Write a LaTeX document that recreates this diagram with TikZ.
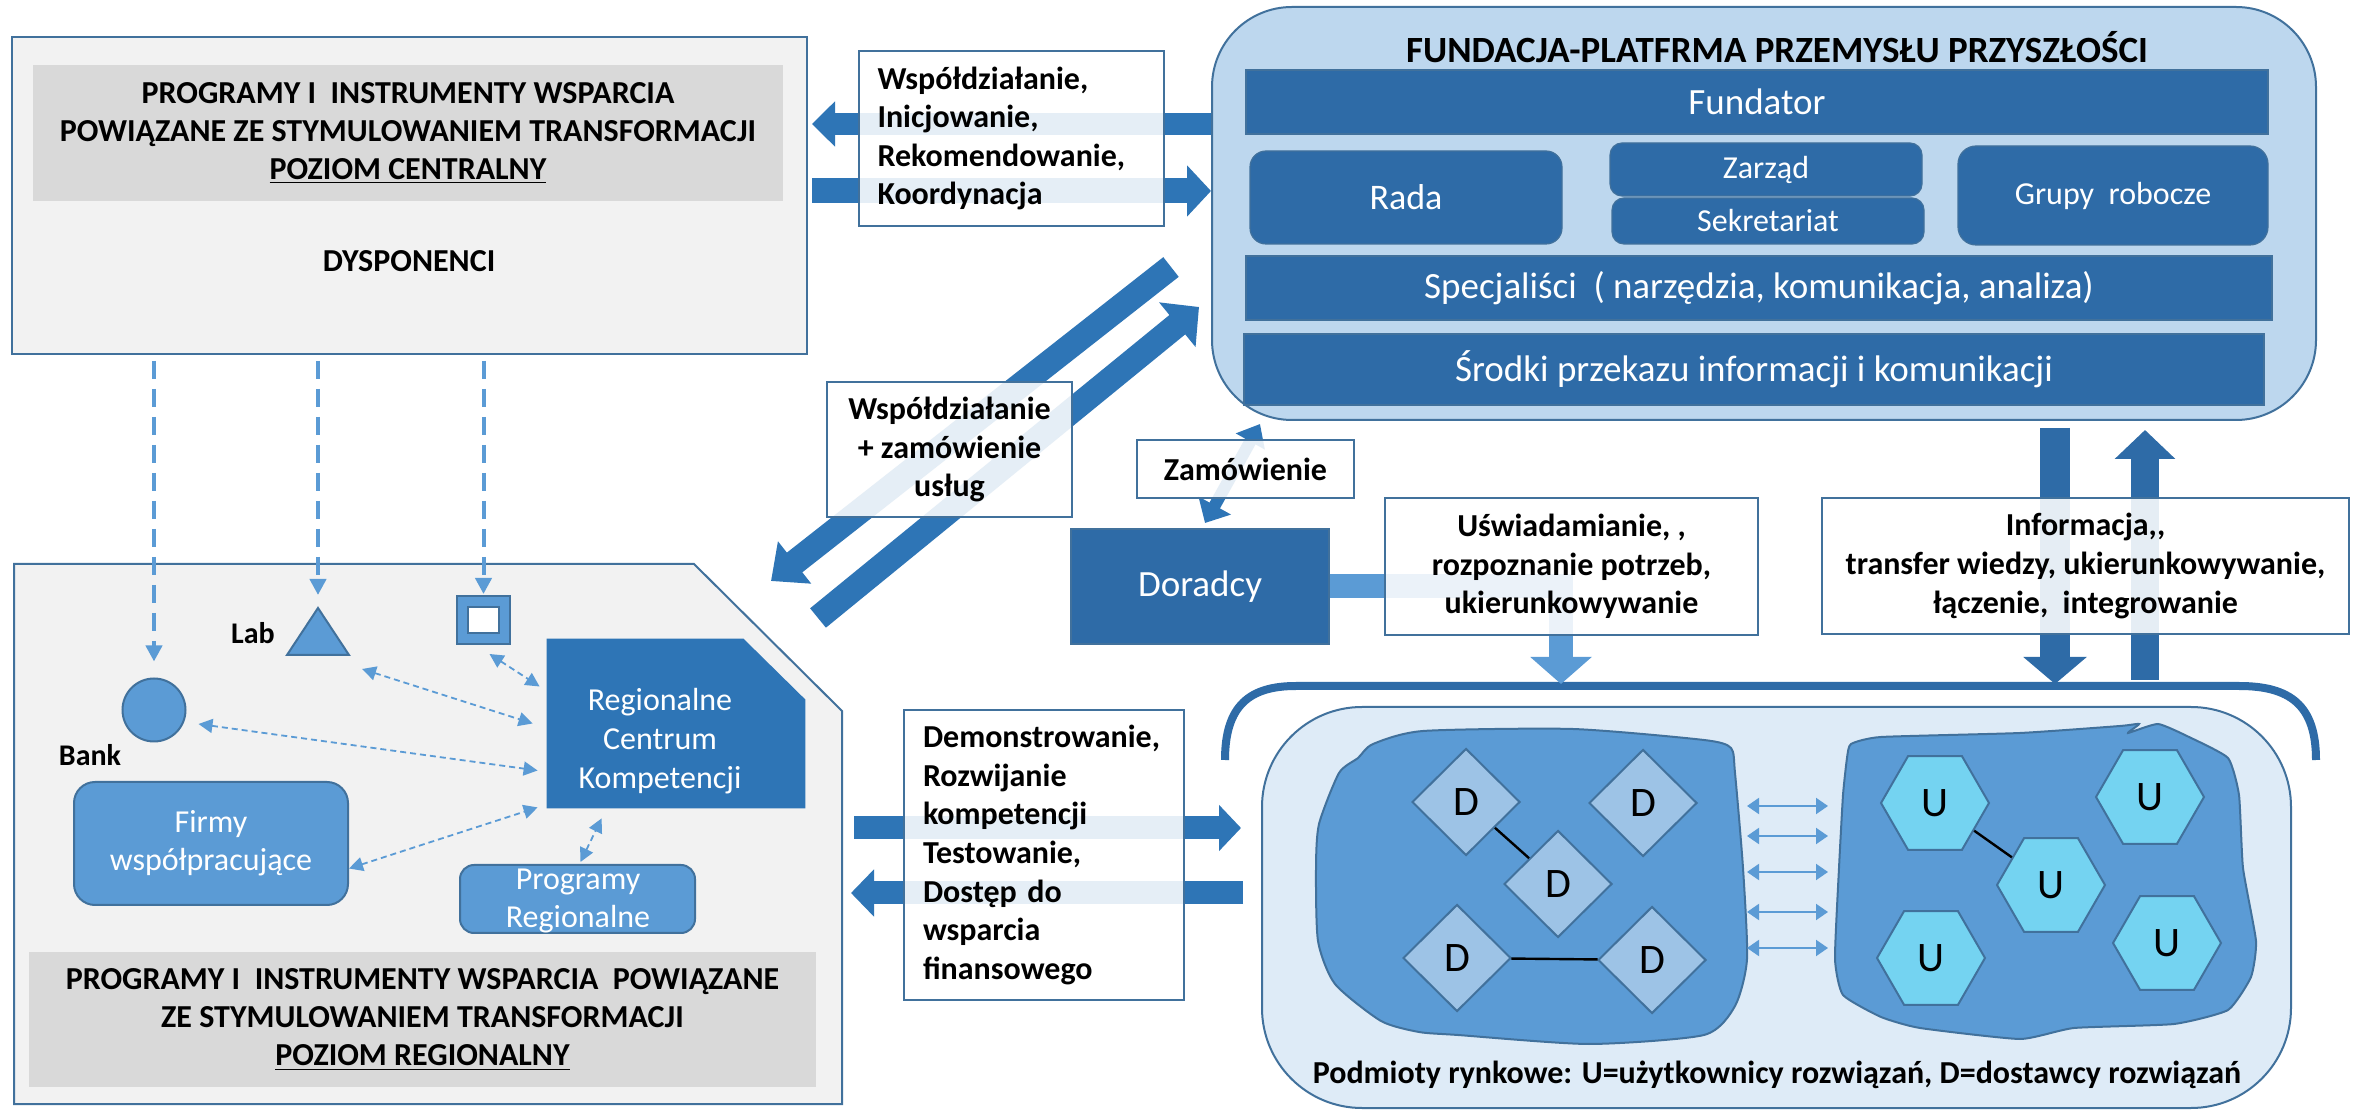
\documentclass[tikz,border=0pt]{standalone}
\usepackage{fontspec}
\setmainfont{Carlito}
\usetikzlibrary{arrows.meta, shapes.geometric}

\definecolor{barblue}{HTML}{2E6BA7}
\definecolor{arrowblue}{HTML}{2E75B6}
\definecolor{midblue}{HTML}{5B9BD5}
\definecolor{edgeblue}{HTML}{41719C}
\definecolor{paleblue}{HTML}{BDD7EE}
\definecolor{marketbg}{HTML}{DEEBF7}
\definecolor{dfill}{HTML}{9DC3E6}
\definecolor{ufill}{HTML}{74D3F1}
\definecolor{panelgrey}{HTML}{F2F2F2}
\definecolor{titlegrey}{HTML}{D9D9D9}

\begin{document}
\begin{tikzpicture}[x=0.5pt, y=-0.5pt,
    panel/.style={fill=panelgrey, draw=edgeblue, line width=1pt},
    greyhead/.style={fill=titlegrey, inner sep=0pt, align=center, font=\fontsize{16}{19}\selectfont\bfseries},
    fundbar/.style={fill=barblue, draw=edgeblue, line width=0.6pt, text=white, inner sep=0pt, font=\fontsize{18.5}{21}\selectfont},
    tag/.style={fill=white, fill opacity=0.88, text opacity=1, draw=edgeblue, line width=0.8pt, inner sep=0pt, font=\fontsize{16}{19.3}\selectfont\bfseries},
    actor/.style={fill=midblue, draw=edgeblue, line width=1pt, text=white, inner sep=0pt, align=center, font=\fontsize{16}{19}\selectfont},
    blockarrow/.style={arrowblue, line width=11.5pt},
    feedline/.style={midblue, line width=2pt, dash pattern=on 9pt off 5pt, -{Triangle[length=8pt,width=8pt]}},
    linkline/.style={midblue, line width=0.9pt, dash pattern=on 3pt off 2pt, {Triangle[length=7pt,width=7pt]}-{Triangle[length=7pt,width=7pt]}},
    pairline/.style={midblue, line width=1pt, {Triangle[length=6pt,width=8pt]}-{Triangle[length=6pt,width=8pt]}},
    supplier/.style={diamond, fill=dfill, draw=edgeblue, line width=1pt, minimum width=54pt, minimum height=53.5pt, inner sep=0pt, font=\fontsize{21}{21}\selectfont},
    user/.style={regular polygon, regular polygon sides=6, fill=ufill, draw=edgeblue, line width=1pt, minimum size=54pt, inner sep=0pt, font=\fontsize{21}{21}\selectfont},
    blob/.style={fill=midblue, draw=edgeblue, line width=1pt}]
  \fill[white] (0,0) rectangle (2357,1111);
  \useasboundingbox (0,0) rectangle (2357,1111);

  % central level
  \node[panel, minimum width=397.5pt, minimum height=158.5pt] (central) at (409.5,195.5) {};
  \node[greyhead, minimum width=375pt, minimum height=68pt] (centraltitle) at (408,133)
    {PROGRAMY I\ \ INSTRUMENTY WSPARCIA\\POWIĄZANE ZE STYMULOWANIEM TRANSFORMACJI\\\underline{POZIOM CENTRALNY}};
  \node[font=\fontsize{16}{19}\selectfont\bfseries] (dysp) at (409,261) {DYSPONENCI};

  % foundation
  \node[draw=edgeblue, line width=1pt, fill=paleblue, rounded corners=40pt, minimum width=552pt, minimum height=206.5pt] (fund) at (1764,213.5) {};
  \node[font=\fontsize{18.5}{21}\selectfont\bfseries] (fundtitle) at (1777,47) {FUNDACJA-PLATFRMA PRZEMYSŁU PRZYSZŁOŚCI};
  \node[fundbar, minimum width=511pt, minimum height=32pt] (fundator) at (1757,102) {Fundator};
  \node[fundbar, rounded corners=8pt, minimum width=156pt, minimum height=46.5pt, font=\fontsize{18}{21}\selectfont] (rada) at (1406,197.5) {Rada};
  \node[fundbar, rounded corners=6pt, minimum width=156pt, minimum height=26.5pt, font=\fontsize{16}{18}\selectfont] (zarzad) at (1766,169.5) {Zarząd};
  \node[fundbar, rounded corners=6pt, minimum width=156pt, minimum height=23pt, font=\fontsize{16}{18}\selectfont] (sekret) at (1768,221) {Sekretariat};
  \node[fundbar, rounded corners=9pt, minimum width=155pt, minimum height=49.5pt, font=\fontsize{16}{18}\selectfont] (grupy) at (2113,195.5) {Grupy\ \ robocze};
  \node[fundbar, minimum width=513pt, minimum height=32pt] (spec) at (1759,288) {Specjaliści\ \ ( narzędzia, komunikacja, analiza)};
  \node[fundbar, minimum width=510pt, minimum height=35.5pt] (srodki) at (1754,369.5) {Środki przekazu informacji i komunikacji};

  % regional level
  \draw[panel] (14,564) -- (694,564) -- (842,711) -- (842,1104) -- (14,1104) -- cycle;
  \node[greyhead, minimum width=393.5pt, minimum height=67.5pt] (regiontitle) at (422.5,1019.5)
    {PROGRAMY I\ \ INSTRUMENTY WSPARCIA\ \ POWIĄZANE\\ZE STYMULOWANIEM TRANSFORMACJI\\\underline{POZIOM REGIONALNY}};
  \node[inner sep=0pt, minimum width=129pt, minimum height=84.5pt] (rck) at (676,723.5) {};
  \fill[arrowblue] (rck.north west) -- ([xshift=-31pt]rck.north east) -- ([yshift=-30.5pt]rck.north east)
    -- (rck.south east) -- (rck.south west) -- cycle;
  \node[text=white, align=center, font=\fontsize{16}{19.5}\selectfont] (rcktext) at (660,741) {Regionalne\\Centrum\\Kompetencji};
  \node[actor, circle, minimum size=31.5pt] (bank) at (154,710) {};
  \node[font=\fontsize{15}{18}\selectfont\bfseries] (banklabel) at (90,755) {Bank};
  \coordinate (lab) at (318,631);
  \fill[midblue, draw=edgeblue, line width=1pt] ([shift={(0,-23)}]lab) -- ([shift={(31,24)}]lab) -- ([shift={(-31,24)}]lab) -- cycle;
  \node[font=\fontsize{15}{18}\selectfont\bfseries] (lablabel) at (253,633) {Lab};
  \node[actor, minimum width=26.5pt, minimum height=24pt] (hub) at (483.5,620) {};
  \node[fill=white, draw=edgeblue, line width=1pt, inner sep=0pt, minimum width=15.5pt, minimum height=13pt] (hubin) at (483.5,620) {};
  \node[actor, rounded corners=10.5pt, minimum width=137pt, minimum height=61.5pt] (firmy) at (211,843.5) {Firmy\\współpracujące};
  \node[actor, rounded corners=7pt, minimum width=117.5pt, minimum height=34pt] (progreg) at (577.5,899) {};
  \node[text=white, align=center, font=\fontsize{16}{19}\selectfont] (progregtext) at (578,901) {Programy\\Regionalne};

  % central -> regional
  \draw[feedline] ([yshift=-3pt]central.south -| bank) -- ([yshift=8pt]bank.north);
  \draw[feedline] ([yshift=-3pt]central.south -| lab) -- ([yshift=18pt]lab);
  \draw[feedline] ([yshift=-3pt]central.south -| hub) -- ([yshift=0.5pt]hub.north);
  \draw[linkline] ([shift={(44,38)}]lab) -- ([xshift=-7pt]rck.west);
  \draw[linkline] ([shift={(6,9)}]hub.south) -- ([shift={(-7,-37)}]rck.west);
  \draw[linkline] ([shift={(12,14)}]bank.east) -- ([shift={(-9,47)}]rck.west);
  \draw[linkline] ([shift={(0,25)}]firmy.east) -- ([shift={(-9,-1)}]rck.south west);
  \draw[linkline] ([shift={(3,-2)}]progreg.north) -- ([shift={(55,10)}]rck.south west);

  % market
  \node[draw=edgeblue, line width=1pt, fill=marketbg, rounded corners=50pt, minimum width=514.5pt, minimum height=200.5pt] (market) at (1776.5,907.5) {};
  \draw[blob] plot[smooth cycle, tension=0.4] coordinates {(1373,744) (1423,731) (1573,729) (1704,740) (1731,748)
    (1735,773) (1743,868) (1747,959) (1735,1006) (1704,1035) (1589,1044) (1458,1035) (1419,1032) (1381,1021)
    (1335,984) (1318,941) (1316,868) (1319,824) (1339,773) (1358,758)};
  \draw[blob] plot[smooth cycle, tension=0.3] coordinates {(1851,744) (1881,737) (2020,733) (2120,726) (2139,724)
    (2128,733) (2158,724) (2189,737) (2228,758) (2239,795) (2243,868) (2256,941) (2251,977) (2228,1010)
    (2174,1024) (2074,1028) (2020,1039) (1920,1028) (1881,1017) (1843,995) (1835,959) (1839,868) (1843,795) (1847,758)};
  \node[supplier] (d1) at (1466,802) {D};
  \node[supplier] (d2) at (1643,803) {D};
  \node[supplier] (d3) at (1558,884) {D};
  \node[supplier] (d4) at (1457,958) {D};
  \node[supplier] (d5) at (1652,960) {D};
  \draw[line width=1.2pt] (d1) -- (d3);
  \draw[line width=1.2pt] (d4) -- (d5);
  \node[user] (u1) at (1935,803) {U};
  \node[user] (u2) at (2150,797) {U};
  \node[user] (u3) at (2051,885) {U};
  \node[user] (u4) at (1931,958) {U};
  \node[user] (u5) at (2167,943) {U};
  \draw[line width=1.2pt] (u1) -- (u3);
  \foreach \yy [count=\i] in {806,836,872,912,948} {
    \coordinate (pl\i) at (1747,\yy);
    \coordinate (pr\i) at (1828,\yy);
    \draw[pairline] (pl\i) -- (pr\i);
  }
  \node[font=\fontsize{16}{19}\selectfont\bfseries] (caption) at (1777,1075) {Podmioty rynkowe: U=użytkownicy rozwiązań, D=dostawcy rozwiązań};
  \draw[barblue, line width=4pt] (1225,760) .. controls (1225,705) and (1250,686) .. (1296,686) -- (2239,686)
    .. controls (2290,686) and (2316,705) .. (2316,760);

  % block arrows
  \coordinate (rowA) at (0,124);
  \coordinate (rowB) at (0,191);
  \draw[blockarrow, line width=11pt, -{Triangle[length=11.5pt,width=22pt]}] (fund.west |- rowA) -- ([xshift=2pt]central.east |- rowA);
  \draw[blockarrow, line width=12.5pt, -{Triangle[length=12pt,width=25pt]}] ([xshift=2pt]central.east |- rowB) -- (fund.west |- rowB);
  \coordinate (diagAtail) at ([shift={(-40,53.5)}]fund.west);
  \coordinate (diagAtip) at (771,581);
  \coordinate (diagBtail) at (818,618);
  \coordinate (diagBtip) at ([shift={(-12,93.5)}]fund.west);
  \draw[blockarrow, line width=12.5pt, -{Triangle[length=15pt,width=26pt]}] (diagAtail) -- (diagAtip);
  \draw[blockarrow, line width=12.5pt, -{Triangle[length=14pt,width=28pt]}] (diagBtail) -- (diagBtip);
  \draw[arrowblue, line width=6pt, {Triangle[length=10pt,width=16pt]}-{Triangle[length=10pt,width=18pt]}]
    ([shift={(49,3)}]fund.south west) -- ([shift={(5,-6)}]1200,529);
  \coordinate (demoA) at (854,828);
  \coordinate (demoB) at (851,893);
  \draw[blockarrow, -{Triangle[length=11pt,width=22.5pt]}] (demoA) -- ([xshift=-10pt]market.west |- demoA);
  \draw[blockarrow, -{Triangle[length=11.5pt,width=23pt]}] ([xshift=-9pt]market.west |- demoB) -- (demoB);
  \coordinate (infoDownA) at (2055,428);
  \coordinate (infoDownB) at (2055,684);
  \coordinate (infoUpA) at (2145,680);
  \coordinate (infoUpB) at (2145,430);
  \draw[barblue, line width=15pt, -{Triangle[length=13.5pt,width=31pt]}] (infoDownA) -- (infoDownB);
  \draw[barblue, line width=14pt, -{Triangle[length=14.5pt,width=29.5pt]}] (infoUpA) -- (infoUpB);

  % advisors
  \node[fundbar, minimum width=129pt, minimum height=57.5pt] (advisors) at (1200,586.5) {Doradcy};
  \coordinate (dropA) at (1561,684);
  \draw[midblue, line width=12pt, line join=miter, -{Triangle[length=13.5pt,width=30pt]}] (advisors.east) -| (dropA);

  % labels on the arrows
  \node[tag, minimum width=152.5pt, minimum height=87.5pt, text width=134pt, align=left] (coop) at (1011.5,138.5)
    {Współdziałanie,\\Inicjowanie,\\Rekomendowanie,\\Koordynacja};
  \node[tag, minimum width=122.5pt, minimum height=67.5pt, align=center] (coop2) at (949.5,449.5)
    {Współdziałanie\\+ zamówienie\\usług};
  \node[tag, minimum width=108.5pt, minimum height=29pt] (order) at (1245.5,469) {Zamówienie};
  \node[tag, minimum width=186.5pt, minimum height=68.5pt, align=center] (aware) at (1571.5,566.5)
    {Uświadamianie, ,\\rozpoznanie potrzeb,\\ukierunkowywanie};
  \node[tag, minimum width=263.5pt, minimum height=68pt, align=center] (info) at (2085.5,566)
    {Informacja,{},\\transfer wiedzy, ukierunkowywanie,\\łączenie,\ \ integrowanie};
  \node[tag, minimum width=140pt, minimum height=145pt, text width=121pt, align=left] (demo) at (1044,855)
    {Demonstrowanie,\\Rozwijanie\\kompetencji\\Testowanie,\\Dostęp do\\wsparcia\\finansowego};
\end{tikzpicture}
\end{document}
